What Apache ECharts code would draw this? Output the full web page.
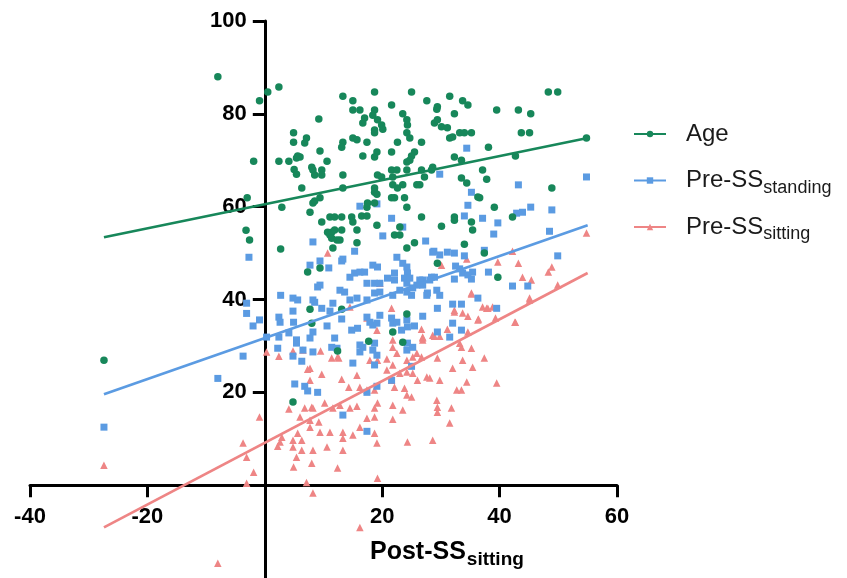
<!DOCTYPE html>
<html>
<head>
<meta charset="utf-8">
<script src="https://cdn.jsdelivr.net/npm/echarts@6/dist/echarts.min.js"></script>
<style>
html,body{margin:0;padding:0;background:#fff}
#chart{width:847px;height:578px}
</style>
</head>
<body>
<div id="chart"></div>
<script>
// Post-SS sitting (x) against Age
var ageXY = [
	[-8,88],[-0.9,82.8],[0.5,84.7],[2.4,85.8],[-1.9,69.8],[2.4,69.8],[4.1,69.8],[4.9,75.9],[4.9,73.9],[5,68],[5.4,67],[5.4,70.5],
	[-3,61.9],[2.9,59.9],[-3.2,54.9],[-2.6,52.8],[2.7,50.9],[6,70.7],[-27.4,26.9],[4.8,17.9],[7.7,37.9],[8,34.9],
	[13.3,83.8],[18.7,84.7],[25,84.7],[15,82.8],[21.6,81.9],[27.6,82.8],[15,80.8],[16.2,80.8],[18.7,80.8],[18.4,79.7],[17,79.1],
	[19.2,78.7],[23.5,80],[16.7,78],[19.9,77.6],[20.1,76.7],[24.2,78.7],[24.3,77.6],[29.3,81],[28.9,78],[9.2,78.9],[7.1,74.8],
	[6.8,73.7],[18.7,76.5],[18.7,75.9],[24.2,75.9],[24.7,74.8],[15,74.8],[15.7,74.4],[13.3,73.9],[13.1,72.8],[17.4,73.9],[22.6,73.9],
	[26.7,73.9],[9.4,72],[19.1,71.8],[21.6,71.8],[25.5,71.8],[5.6,70.9],[18.7,70.7],[16.7,70.9],[25,70.9],[24.7,70],[10.6,69.8],
	[8,68.5],[8.2,67.9],[9.7,67.9],[8.5,66.8],[9.7,66.8],[24.2,69.6],[21.6,67.9],[22.5,67.9],[24.2,67.9],[26.7,67.9],[28.6,68.5],
	[28.4,67.9],[19.2,66.8],[19.9,66.4],[21.8,66.4],[27.2,66.4],[13.3,66.8],[26.4,64.7],[21.8,64.7],[23.5,64.7],[22.6,64],[18.7,64],
	[6.3,64],[13.3,64],[18.7,63.1],[19.1,62.7],[25.9,64.7],[9.4,61.9],[8.2,60.8],[8.5,61.2],[21.6,61.9],[22.1,61.9],[23.8,61.9],
	[17.4,59.9],[17.5,60.8],[18.7,60.8],[24.2,59.9],[7.7,58.8],[11.1,57.8],[11.9,57.8],[13.1,57.8],[14.8,57.8],[16.5,58],[17.4,58],
	[26.7,57.8],[9.7,56.7],[15,56.7],[23,55.6],[19.1,56],[10.7,54.5],[11.4,54.5],[11.9,55],[13.1,55],[15.7,55],[22.1,53.9],[23,53.9],
	[11.1,53.9],[11.4,53.2],[12.3,52.8],[12.8,52.8],[15.7,52.2],[25.5,52.2],[11.6,51.1],[24.2,51.1],
	[31.5,83.8],[33.7,82.8],[34.6,81.9],[39.5,80.8],[43.2,80.8],[45.3,80],[48.3,84.7],[49.9,84.7],[29.4,81.5],[32.3,80],[29.4,78.7],
	[30.1,77.2],[31.1,77],[33.2,75.9],[34,75.9],[35.2,75.9],[31.5,74.8],[32,75],[43.7,75.9],[45.1,75.9],[38.1,72.8],[32.3,70.7],
	[33.5,70],[42.7,70.9],[37.1,67.9],[33.5,66.2],[34.4,65.1],[37.8,65.9],[36.3,62.1],[48.9,64],[39.1,59.9],[42.2,57.8],[32.3,57.8],
	[32.3,57.1],[30.1,55.8],[35.4,55],[34,51.9],[37.4,50],[29.4,47.8],[39.7,44.8],[54.8,74.8],[36.6,61.9],[35.2,56.7],
	[7.3,45.9],[9.4,46.8],[13.1,37.9],[24.2,36.9],[21.8,33],[17.7,31],[23.5,30.8],[12.4,28.9]
];

// Post-SS sitting (x) against Pre-SS standing
var standingXY = [
	[-27.4,12.5],[-8,23],[-3.7,27.8],[-3.1,39.2],[-3.1,37],[-2,34.3],[-0.9,35.6],[0.3,31.9],[2.7,40.9],[2.4,36.2],[4.8,37.5],
	[4.9,35.1],[8.5,39.4],[2.4,31.9],[4.1,32.8],[5.4,30.6],[2.2,29.5],[4.8,27.8],[6.3,26.7],[8.2,28.7],[7.7,31.7],[8.2,33],
	[5.1,21.8],[6.8,21.3],[7.3,20.3],[9,20],[9,42.7],[-2.7,49.1],[4.8,40.3],
	[8.2,52.4],[9.4,48.3],[7.7,47.4],[13.1,48.3],[10.9,46.8],[15.3,50.4],[18.4,47.4],[19.2,47],[14.5,44.8],[15.3,45.7],[16.2,45.9],
	[17,45.9],[17.4,43.5],[18.7,43.5],[19.6,43.5],[20.9,44.6],[22.5,49.1],[22.1,45.7],[22.1,44.2],[23.5,47.8],[24.2,47],[24.3,45.7],
	[23.8,44.6],[24.2,43.5],[24.7,44.6],[25.2,42.5],[25.9,43.1],[26.9,44.2],[28.4,44.8],[28.6,50.2],[29.3,42],[27.7,41.4],[9.4,43.1],
	[5.6,39.9],[8.2,39.9],[9.7,38.1],[11.1,37.5],[11.6,39.2],[12.8,42],[13.6,41.6],[14.5,39.9],[15.7,40.3],[17.4,39.9],[18.7,41.4],
	[19.6,41.6],[21.8,40.9],[23,42],[24.2,41.6],[25,40.9],[27.6,40.9],[2.6,35.1],[10.6,34.3],[13.1,35.8],[14.8,33.4],[15.8,33.8],
	[17.4,36.2],[17.9,35.1],[18.4,34.5],[19.1,34.9],[19.6,36.6],[21.6,36],[21.8,34.9],[22.5,35.1],[24.2,35.6],[24.3,34.1],[23.3,33.4],
	[25.5,34.3],[26.9,36.4],[5.4,31.3],[6.5,29.1],[11.4,29.7],[12.3,29.5],[11.9,31.7],[16.2,30.2],[16.7,29.7],[16.2,28.7],[18.7,30.6],
	[18.4,29.1],[19.1,28],[24.3,30.6],[25.2,29.7],[15,26.3],[18.7,25.9],[25,25.6],[21.6,22.6],[13.3,15.1],[17.4,20],[19.1,21.3],[17.4,11.6],
	[31.5,31.9],[33.5,33.4],[32,39],[33.5,39],[29.4,38.1],[36.3,40.3],[39.5,38.1],[42.2,42.9],[44.8,42.9],[29.4,33],[24.2,29.1],[29.8,40.9],
	[29.8,67],[54.8,66.4],[43.2,64.7],[35.2,63.1],[34.6,60.3],[34,58],[37.1,57.5],[39.7,56.5],[39,54.1],[42.9,58.6],[43.9,58.8],
	[45.3,59.9],[48.9,59.3],[48.5,54.7],[49.9,49.4],[27.4,52.6],[28.8,50.4],[29.8,49.6],[31.1,50.2],[32.3,50],[34,49.4],[37.4,50.6],
	[32.5,47.2],[33.2,46.6],[33.7,45.7],[34.6,45.3],[35.4,45.9],[35.2,44.4],[32.3,44.4],[38.1,45.9],[26.4,44.2],[26.9,43.1],[28.1,44.2],
	[28.9,44.8],[32,34.9],[34.4,72.6],[21.6,57.5],[16.2,60.1],[19.1,60.6],[20.1,53.7],[23.5,55.6],[13.3,48.7]
];

// Post-SS sitting (x) against Pre-SS sitting
var sittingXY = [
	[-27.4,4.3],[-8,-16.8],[0.3,28.7],[2.4,27.8],[-0.9,14.7],[-3.7,9.1],[-3.1,6],[-1.9,2.8],[-3.1,0.4],[7.3,25],[4.1,16.4],
	[6.8,16.6],[8,16.8],[7.7,12.5],[5.6,11.2],[2.9,10.3],[2.2,8.4],[4.8,8.2],[5.4,6],[6.3,9.7],[8.2,7.5],[4.9,3.9],[8,4.7],
	[7.1,0.6],[8.2,-1.7],
	[4.8,28.9],[6.5,29.1],[9.5,28.9],[12.6,27.4],[7.7,25.2],[9.7,23.9],[13.1,22.8],[14.3,21.1],[15.7,23.7],[16.2,21.1],[17.9,26.9],
	[19.2,26.9],[17.4,20.5],[18.7,20.5],[20.8,24.8],[21.8,25.9],[21.6,22.6],[22.5,28.4],[21.8,29.7],[24.2,26.9],[25.2,27.6],[23,24.1],
	[24.2,24.4],[22.1,21.1],[23.8,20.9],[25,19],[24.2,19.4],[26.7,27.6],[26.9,31.3],[27.6,23.3],[28.1,23.1],[29.8,22.6],[29.4,27.4],
	[29.3,18.3],[29.4,16.8],[29.4,15.7],[31.8,16.6],[31.5,13.4],[28.6,9.7],[24.3,9.3],[32,25.2],[32.7,20.5],[33.5,20.5],[34.4,22.2],
	[33.7,26.9],[35.4,25.4],[33.5,29.7],[35.2,29.5],[37.4,27.4],[39.5,22],[34.6,33],[36.3,35.6],[37.8,38.1],[38.8,38.4],[42.6,35.1],
	[45.1,39.9],[32.3,37.7],[33.7,37.1],[35.2,41.4],[28.6,32.3],
	[7.7,22.6],[11.6,16.6],[12.8,17.2],[10.2,17.7],[8.2,16.6],[14.5,16.6],[15.7,17],[18.7,16.6],[19.2,17.7],[21.8,17.2],[23.5,16.2],
	[17.4,14.4],[18.7,14.7],[21.8,14.2],[7.7,14],[9.2,13.6],[6,14.7],[11.1,11.4],[9.4,11.4],[13.3,11.4],[13.3,10.1],[13.3,7.5],
	[15,10.8],[16.2,12.5],[18.7,11.2],[19.1,9.1],[4.8,9.7],[2.6,9.3],[6.3,7.5],[10.6,8.2],[12.4,3.7],[19.2,1.5],[16.2,-9.1],
	[10.7,50],[19.6,43.5],[14.5,38.4],[21.6,38.1],[17.4,36],[26.7,33.6],[26.9,31.7],[21.8,31.3],[19.1,33.4],[11.4,27.4],[12.4,27.6],
	[20.8,27.2],[25.9,28.4],[25.2,24.1],[26,22.6],
	[54.8,54.3],[42.2,50.4],[39.7,48.1],[43.2,47.8],[48.9,47],[48.3,45.9],[43.9,44.8],[45.4,44.2],[49.9,43.1],[45.1,40.3],[34.4,48.7],
	[30.1,47.4],[35.2,41.2],[37.1,38.4],[38,38.1],[32.3,37.3],[34.6,36.4],[36.4,35.8],[39.3,36],[42.7,35.1],[31.1,33.6],[26.9,31.9],
	[28.9,32.1],[29.8,32.1],[33.2,30.6]
];

// fitted lines, ends
var fitX = [-27.4, 55];
var ageFit = [53.4, 74.8];
var standingFit = [19.6, 56];
var sittingFit = [-9.1, 45.7];

var xTicks = [-40, -20, 20, 40, 60];
var yTicks = [20, 40, 60, 80, 100];
var seriesNames = ['Age', 'Pre-SS_standing', 'Pre-SS_sitting'];
var colors = ['#17875a', '#5b9be2', '#ee8585'];
var symbols = ['circle', 'rect', 'triangle'];
var symbolSizes = [7.5, 7, 7.5];

var font = 'Arial, "Liberation Sans", sans-serif';
var myChart = echarts.init(document.getElementById('chart'));

// plot box
var gLeft = 30, gRight = 230, gTop = 21, gBottom = 0;
var xMin = -40, xMax = 60, yMin = -20, yMax = 100;
var plotW = 847 - gLeft - gRight, plotH = 578 - gTop - gBottom;
// axes cross at 0: shift them inward from the grid edges
var yAxisShift = -plotW * (0 - xMin) / (xMax - xMin);
var xAxisShift = -plotH * (0 - yMin) / (yMax - yMin);

function fitLine(ys){
	return [[fitX[0], ys[0]], [fitX[1], ys[1]]];
}

var pointSets = [ageXY, standingXY, sittingXY];
var fits = [ageFit, standingFit, sittingFit];
var series = [];

// lines first so the legend picks up the line icon
for (var i = 0; i < 3; i++) {
	series.push({
		name: seriesNames[i],
		type: 'line',
		data: fitLine(fits[i]),
		symbol: symbols[i],
		showSymbol: false,
		z: 4,
		lineStyle: {color: colors[i], width: 2.7},
		itemStyle: {color: colors[i]},
		silent: true
	});
}
for (var k = 2; k >= 0; k--) {
	series.push({
		name: seriesNames[k],
		type: 'scatter',
		data: pointSets[k],
		symbol: symbols[k],
		symbolSize: symbolSizes[k],
		itemStyle: {color: colors[k], opacity: 1},
		z: 2
	});
}

var option = {
	animation: false,
	backgroundColor: '#fff',
	grid: {left: gLeft, right: gRight, top: gTop, bottom: gBottom, containLabel: false, outerBoundsMode: 'none'},
	xAxis: {
		type: 'value', min: xMin, max: xMax, interval: 20,
		position: 'bottom', offset: xAxisShift,
		axisLine: {onZero: false, lineStyle: {color: '#000', width: 3}},
		axisTick: {length: 12, lineStyle: {color: '#000', width: 3}, customValues: xTicks},
		axisLabel: {customValues: xTicks, margin: 21, color: '#000', fontSize: 22, fontWeight: 'bold', fontFamily: font},
		splitLine: {show: false}
	},
	yAxis: {
		type: 'value', min: yMin, max: yMax, interval: 20,
		position: 'left', offset: yAxisShift,
		axisLine: {onZero: false, lineStyle: {color: '#000', width: 3}},
		axisTick: {length: 12, lineStyle: {color: '#000', width: 3}, customValues: yTicks},
		axisLabel: {customValues: yTicks, margin: 18, color: '#000', fontSize: 22, fontWeight: 'bold', fontFamily: font},
		splitLine: {show: false}
	},
	legend: {
		orient: 'vertical', left: 633, top: 122, padding: 0,
		itemWidth: 32, itemHeight: 8, itemGap: 18,
		data: seriesNames,
		formatter: function(n){
			var p = n.split('_');
			return '{m|' + p[0] + '}{s|' + (p[1] || ' ') + '}';
		},
		textStyle: {
			color: '#1a1a1a', fontFamily: font, fontSize: 24,
			rich: {
				m: {fontSize: 24, lineHeight: 34, fontFamily: font, color: '#1a1a1a', padding: [0, 0, 0, 15]},
				s: {fontSize: 18, fontFamily: font, color: '#1a1a1a', padding: [15, 0, 0, 0]}
			}
		}
	},
	graphic: [{
		type: 'text', x: 370, y: 552,
		style: {
			text: '{m|Post-SS}{s|sitting}',
			verticalAlign: 'middle', align: 'left',
			rich: {
				m: {fontSize: 25, fontWeight: 'bold', fontFamily: font, fill: '#000', lineHeight: 34},
				s: {fontSize: 19, fontWeight: 'bold', fontFamily: font, fill: '#000', padding: [16, 0, 0, 1]}
			}
		}
	}],
	series: series
};

myChart.setOption(option);
</script>
</body>
</html>
